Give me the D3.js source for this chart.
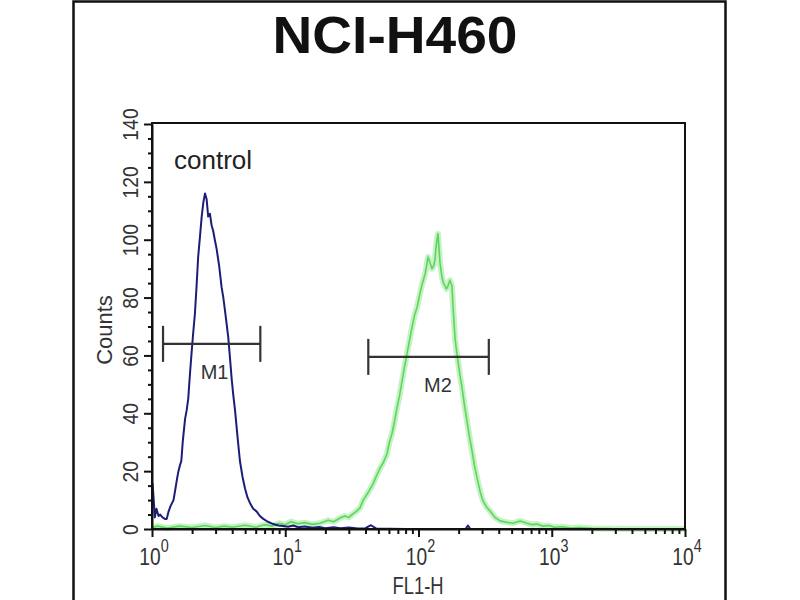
<!DOCTYPE html>
<html><head><meta charset="utf-8">
<script src="https://cdn.jsdelivr.net/npm/d3@7"></script>
<style>body{margin:0;background:#fff}</style>
</head><body>
<svg id="c" width="800" height="600"></svg>
<script>
const title = "NCI-H460";
const xLabel = "FL1-H";
const yLabel = "Counts";
const sampleLabel = "control";
const xTickValues = [1, 10, 100, 1000, 10000];
const xTickExponents = ["0", "1", "2", "3", "4"];
const yTickValues = [0, 20, 40, 60, 80, 100, 120, 140];
const yMinorTicks = [5,10,15,25,30,35,45,50,55,65,70,75,85,90,95,105,110,115,125,130,135];

const blueX = [1.0,1.01,1.03,1.05,1.08,1.12,1.15,1.2,1.25,1.29,1.33,1.38,1.45,1.5,1.55,1.58,1.62,1.66,1.7,1.77,1.82,1.87,1.93,1.99,2.04,2.10,2.16,2.22,2.29,2.36,2.43,2.50,2.57,2.64,2.72,2.80,2.88,2.96,3.05,3.19,3.33,3.43,3.53,3.63,3.74,3.85,3.96,4.08,4.20,4.38,4.57,4.78,4.99,5.2,5.43,5.75,6.11,6.45,6.84,7.4,8.13,8.9,9.6,10.5,11.5,12.5,14,16,18,20,23,26,30,35,40,44,48,60,80,150,225,235,245,500,10000];
const blueY = [8,15.6,10,4,7,4.5,5,4,3.5,3.5,6,8,10,14,18,20,22,23.5,30,38,41,45,54,62,68,74.5,84,94,101,108,113,116,114,108,109,105,103,100,97,91,83.5,80,75.5,71,66,59,52,46,41,32,23.5,18,14,11,9,7,6,4.5,3.5,2.5,1.7,1.2,1,0.8,1.2,0.6,0.9,0.4,0.7,0.3,0.6,0.3,0.5,0.2,0.3,1.3,0.2,0.1,0,0,0,1.2,0,0,0];

const greenX = [1.0,1.1,1.3,1.6,2,2.5,3,3.5,4,5,6,7,8,9,10,11,12.5,14,16,18.2,21,23,25.8,28,30,32.2,34,36.4,38.5,41.1,43,45.6,48,51.4,54.5,58,60.5,63.3,66,69,72,75.2,78.5,82,85.5,89.4,93.5,97.5,100,102.6,107,111.9,115,117.8,122,126.3,130,133,135,137.6,140,142.5,145,150.1,154,158.1,162,166.4,172,178.3,181.5,184.5,187.9,192.5,197.8,205,212,221,231.1,241,252.2,263,274.9,290,304.9,325,344.3,375,409.3,460,512.2,580,651.5,710,774.3,850,950,1050,1200,1400,1600,2000,3000,5000,10000];
const greenY = [0.5,1,0.3,1,0.5,1.2,0.5,1,0.6,1.3,0.6,1.5,1,2,1.5,2.5,1.8,2.2,1.6,2,3,2.5,3.8,4.5,4,5.2,6,7.3,10,12,13.5,15.6,18,21,23,26,30,33,37,42,46,51,56,60.6,65,69.7,74,76.6,79,81.4,85,88,91,94,92,90,91,93,97,100,102,97,92,87,85,84,83,84,86,84,77,72,66,62,58,53,49,43,37.4,32,27,22,17.7,13,9.7,7.5,6.2,4,2.8,2.3,2,2.8,2,1.5,1.7,1,1.2,0.6,0.8,0.3,0.5,0.2,0.1,0,0];

const markerNames = ["M1", "M2"];
const markerStart = [1.21, 42];
const markerEnd = [6.5, 337];
const markerLevel = [64, 59.5];
const markerLabelX = [2.95, 140];

const svg = d3.select("#c");
const x = d3.scaleLog().domain([1, 10000]).range([152, 685]);
const y = d3.scaleLinear().domain([0, 140]).range([529, 124]);
const FONT = "'Liberation Sans', Arial, Helvetica, sans-serif";

// outer frame
svg.append("rect").attr("x", 73.5).attr("y", 1.5).attr("width", 652).attr("height", 640)
  .attr("fill", "#fff").attr("stroke", "#111").attr("stroke-width", 2.5);

// title
svg.append("text").attr("x", 395).attr("y", 53).attr("text-anchor", "middle")
  .attr("font-family", FONT).attr("font-weight", "bold").attr("font-size", 52)
  .attr("textLength", 245).attr("lengthAdjust", "spacingAndGlyphs")
  .attr("fill", "#111").text(title);

// curves
const line = (xs, ys) => d3.line().x((d, i) => x(xs[i])).y((d, i) => y(ys[i]))(xs);
svg.append("path").attr("d", line(greenX, greenY)).attr("fill", "none")
  .attr("stroke", "#c6f2c6").attr("stroke-width", 6).attr("stroke-linejoin", "round");
svg.append("path").attr("d", line(greenX, greenY)).attr("fill", "none")
  .attr("stroke", "#5cd65c").attr("stroke-width", 1.6).attr("stroke-linejoin", "round");
svg.append("path").attr("d", line(blueX, blueY)).attr("fill", "none")
  .attr("stroke", "#1d1d78").attr("stroke-width", 2).attr("stroke-linejoin", "round");

// plot frame
svg.append("rect").attr("x", 152).attr("y", 123).attr("width", 533).attr("height", 406)
  .attr("fill", "none").attr("stroke", "#111").attr("stroke-width", 2);

// y axis
const gy = svg.append("g").attr("transform", "translate(152,0)");
gy.call(d3.axisLeft(y).tickValues(yTickValues).tickSize(8).tickSizeOuter(0));
gy.select(".domain").attr("stroke", "#111").attr("stroke-width", 2);
gy.selectAll(".tick line").attr("stroke", "#111").attr("stroke-width", 2);
gy.selectAll(".tick text").attr("x", 0).attr("y", -14).attr("dy", 0)
  .attr("text-anchor", "middle").attr("transform", "rotate(-90) scale(0.88,1)")
  .attr("font-family", FONT).attr("font-size", 22).attr("fill", "#333");
const gym = svg.append("g").attr("transform", "translate(152,0)");
gym.call(d3.axisLeft(y).tickValues(yMinorTicks).tickSize(4).tickFormat(""));
gym.select(".domain").remove();
gym.selectAll(".tick line").attr("stroke", "#111").attr("stroke-width", 2);

// x axis
const gx = svg.append("g").attr("transform", "translate(0,529)");
gx.call(d3.axisBottom(x).tickValues(xTickValues).tickSize(8).tickSizeOuter(0).tickFormat(""));
gx.select(".domain").attr("stroke", "#111").attr("stroke-width", 2);
gx.selectAll(".tick line").attr("stroke", "#111").attr("stroke-width", 2);
const minorX = [];
for (let dec = 1; dec < 10000; dec *= 10) for (let m = 2; m <= 9; m++) minorX.push(dec * m);
const gxm = svg.append("g").attr("transform", "translate(0,529)");
gxm.call(d3.axisBottom(x).tickValues(minorX).tickSize(5).tickFormat(""));
gxm.select(".domain").remove();
gxm.selectAll(".tick line").attr("stroke", "#111").attr("stroke-width", 2);

// x tick labels 10^n
xTickValues.forEach((v, i) => {
  const t = svg.append("text").attr("transform", `translate(${x(v) + 2},565) scale(0.8,1)`)
    .attr("font-family", FONT).attr("fill", "#333").attr("text-anchor", "middle");
  t.append("tspan").attr("font-size", 24).text("10");
  t.append("tspan").attr("font-size", 18).attr("dy", -13).text(xTickExponents[i]);
});

// axis titles
svg.append("text").attr("transform", "translate(418,594) scale(0.8,1)")
  .attr("text-anchor", "middle").attr("font-family", FONT).attr("font-size", 23)
  .attr("fill", "#333").text(xLabel);
svg.append("text").attr("transform", "translate(112,330) rotate(-90)")
  .attr("text-anchor", "middle").attr("font-family", FONT).attr("font-size", 22)
  .attr("fill", "#333").text(yLabel);

// control label
svg.append("text").attr("x", 174).attr("y", 169).attr("font-family", FONT)
  .attr("font-size", 26).attr("fill", "#222").text(sampleLabel);

// markers
markerNames.forEach((name, i) => {
  const yy = y(markerLevel[i]), x0 = x(markerStart[i]), x1 = x(markerEnd[i]);
  const g = svg.append("g").attr("stroke", "#333").attr("stroke-width", 2.2);
  g.append("line").attr("x1", x0).attr("x2", x1).attr("y1", yy).attr("y2", yy);
  g.append("line").attr("x1", x0).attr("x2", x0).attr("y1", yy - 18).attr("y2", yy + 18);
  g.append("line").attr("x1", x1).attr("x2", x1).attr("y1", yy - 18).attr("y2", yy + 18);
  svg.append("text").attr("x", x(markerLabelX[i])).attr("y", yy + 35)
    .attr("text-anchor", "middle").attr("font-family", FONT).attr("font-size", 20)
    .attr("fill", "#333").text(name);
});
</script>
</body></html>
